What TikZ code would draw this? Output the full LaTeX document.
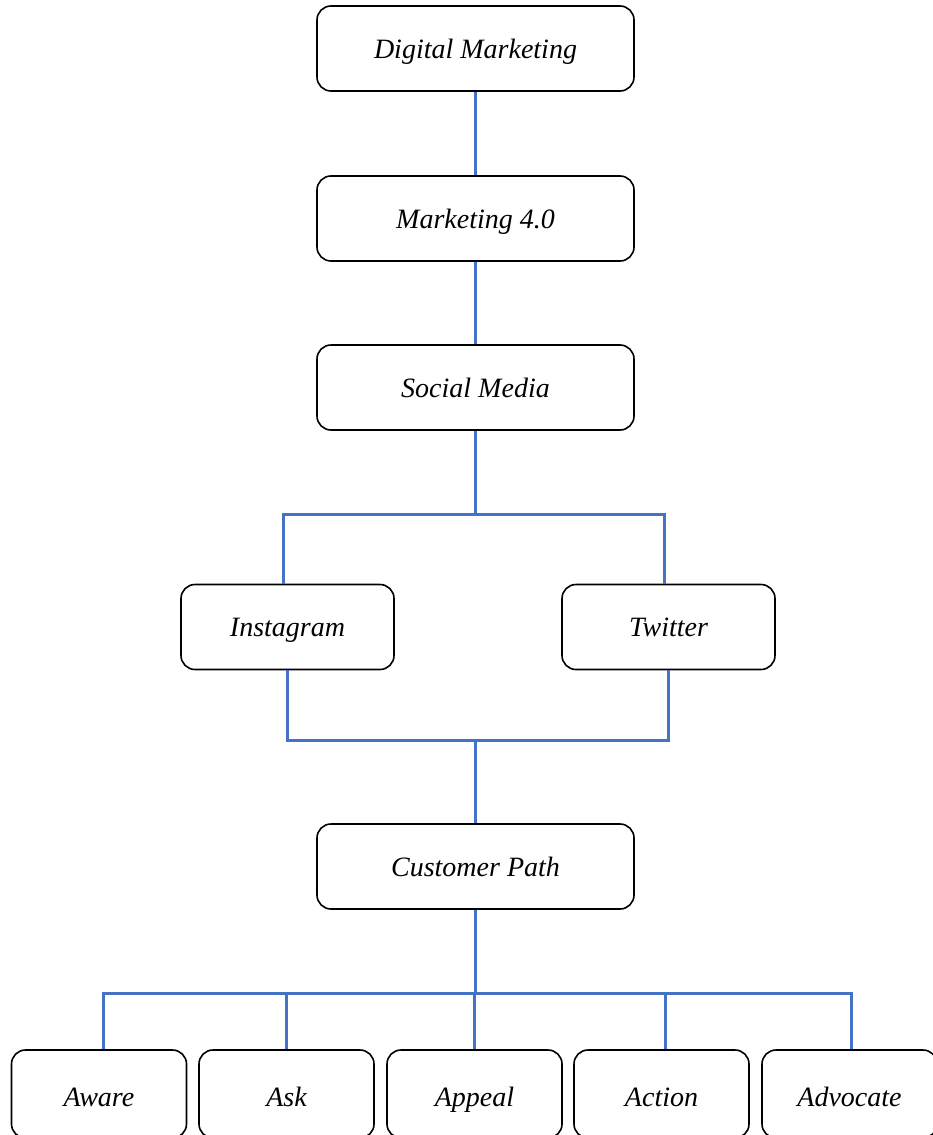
\documentclass[tikz,border=0pt]{standalone}
\usepackage{fontspec}
\setmainfont{Liberation Serif}
\definecolor{linkblue}{HTML}{4472C4}
\begin{document}
\begin{tikzpicture}[x=1pt,y=1pt,
  box/.style={draw=black, line width=1.6pt, rounded corners=14pt, minimum width=317pt, minimum height=85pt, inner sep=0pt, text height=22pt, text depth=3pt, font=\fontsize{28}{32}\selectfont\itshape, fill=white},
  smallbox/.style={box, minimum width=213pt},
  leafbox/.style={box, minimum width=175pt, minimum height=88pt, text height=27pt, text depth=2pt},
  link/.style={draw=linkblue, line width=3pt}]
\useasboundingbox (0,0) rectangle (932,-1135);
\node[box] (dm) at (475.5,-48.5) {Digital Marketing};
\node[box] (m4) at (475.5,-218.5) {Marketing 4.0};
\node[box] (sm) at (475.5,-387.5) {Social Media};
\node[smallbox] (ig) at (287.5,-627) {Instagram};
\node[smallbox] (tw) at (668.5,-627) {Twitter};
\node[box] (cp) at (475.5,-866.5) {Customer Path};
\node[leafbox] (aw) at (99,-1094) {Aware};
\node[leafbox] (ask) at (286.5,-1094) {Ask};
\node[leafbox] (app) at (474.5,-1094) {Appeal};
\node[leafbox] (act) at (661.5,-1094) {Action};
\node[leafbox] (adv) at (849.5,-1094) {Advocate};
\coordinate (j1) at (475.5,-514);
\coordinate (j2) at (475.5,-740);
\coordinate (j3) at (475.5,-993);
\draw[link] (dm.south) -- (m4.north);
\draw[link] (m4.south) -- (sm.north);
\draw[link] (sm.south) -- (j1);
\draw[link] ([xshift=-4pt]ig.north) |- (j1) -| ([xshift=-4pt]tw.north);
\draw[link] (ig.south) |- (j2) -| (tw.south);
\draw[link] (j2) -- (cp.north);
\draw[link] (cp.south) -- (j3);
\draw[link] ([xshift=4pt]aw.north) |- (j3) -| ([xshift=2pt]adv.north);
\draw[link] (ask.north) -- (ask.north |- j3);
\draw[link] (app.north) -- (app.north |- j3);
\draw[link] ([xshift=4pt]act.north) -- ([xshift=4pt]act.north |- j3);
\end{tikzpicture}
\end{document}
